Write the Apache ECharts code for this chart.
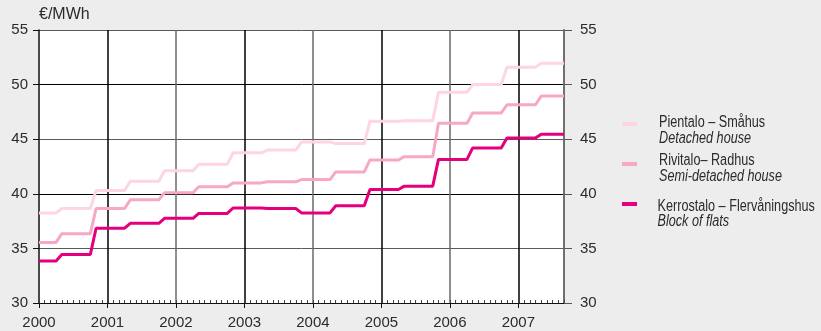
<!DOCTYPE html>
<html>
<head>
<meta charset="utf-8">
<script src="https://cdn.jsdelivr.net/npm/echarts@6/dist/echarts.min.js"></script>
<style>
  html, body { margin: 0; padding: 0; background: #ededed; }
  #chart { width: 821px; height: 331px; }
</style>
</head>
<body>
<div id="chart"></div>
<script>
// Monthly price levels, €/MWh, January 2000 to September 2007
const yearLabels = ['2000', '2001', '2002', '2003', '2004', '2005', '2006', '2007'];
const firstYear = 2000;
const monthCount = 93;

const seriesNames = ['Pientalo – Småhus', 'Rivitalo– Radhus', 'Kerrostalo – Flervåningshus'];
const seriesSubtitles = ['Detached house', 'Semi-detached house', 'Block of flats'];
const seriesColors = ['#fdd5e3', '#f6a8c6', '#e4007c'];

const detachedHouse = [
  38.25, 38.25, 38.25, 38.25, 38.65, 38.65, 38.65, 38.65, 38.65, 38.65, 40.3, 40.3,
  40.3, 40.3, 40.3, 40.3, 41.15, 41.15, 41.15, 41.15, 41.15, 41.15, 42.1, 42.1,
  42.1, 42.1, 42.1, 42.1, 42.7, 42.7, 42.7, 42.7, 42.7, 42.7, 43.75, 43.75,
  43.75, 43.75, 43.75, 43.75, 44.0, 44.0, 44.0, 44.0, 44.0, 44.0, 44.75, 44.75,
  44.75, 44.75, 44.75, 44.75, 44.6, 44.6, 44.6, 44.6, 44.6, 44.6, 46.65, 46.65,
  46.65, 46.65, 46.65, 46.65, 46.7, 46.7, 46.7, 46.7, 46.7, 46.7, 49.3, 49.3,
  49.3, 49.3, 49.3, 49.3, 50.0, 50.0, 50.0, 50.0, 50.0, 50.0, 51.6, 51.6,
  51.6, 51.6, 51.6, 51.6, 51.95, 51.95, 51.95, 51.95, 51.95
];

const semiDetachedHouse = [
  35.55, 35.55, 35.55, 35.55, 36.35, 36.35, 36.35, 36.35, 36.35, 36.35, 38.65, 38.65,
  38.65, 38.65, 38.65, 38.65, 39.45, 39.45, 39.45, 39.45, 39.45, 39.45, 40.1, 40.1,
  40.1, 40.1, 40.1, 40.1, 40.65, 40.65, 40.65, 40.65, 40.65, 40.65, 41.0, 41.0,
  41.0, 41.0, 41.0, 41.0, 41.1, 41.1, 41.1, 41.1, 41.1, 41.1, 41.3, 41.3,
  41.3, 41.3, 41.3, 41.3, 42.0, 42.0, 42.0, 42.0, 42.0, 42.0, 43.1, 43.1,
  43.1, 43.1, 43.1, 43.1, 43.4, 43.4, 43.4, 43.4, 43.4, 43.4, 46.45, 46.45,
  46.45, 46.45, 46.45, 46.45, 47.4, 47.4, 47.4, 47.4, 47.4, 47.4, 48.15, 48.15,
  48.15, 48.15, 48.15, 48.15, 48.95, 48.95, 48.95, 48.95, 48.95
];

const blockOfFlats = [
  33.85, 33.85, 33.85, 33.85, 34.45, 34.45, 34.45, 34.45, 34.45, 34.45, 36.85, 36.85,
  36.85, 36.85, 36.85, 36.85, 37.3, 37.3, 37.3, 37.3, 37.3, 37.3, 37.75, 37.75,
  37.75, 37.75, 37.75, 37.75, 38.2, 38.2, 38.2, 38.2, 38.2, 38.2, 38.7, 38.7,
  38.7, 38.7, 38.7, 38.7, 38.65, 38.65, 38.65, 38.65, 38.65, 38.65, 38.25, 38.25,
  38.25, 38.25, 38.25, 38.25, 38.9, 38.9, 38.9, 38.9, 38.9, 38.9, 40.4, 40.4,
  40.4, 40.4, 40.4, 40.4, 40.7, 40.7, 40.7, 40.7, 40.7, 40.7, 43.15, 43.15,
  43.15, 43.15, 43.15, 43.15, 44.2, 44.2, 44.2, 44.2, 44.2, 44.2, 45.1, 45.1,
  45.1, 45.1, 45.1, 45.1, 45.45, 45.45, 45.45, 45.45, 45.45
];

const seriesValues = [detachedHouse, semiDetachedHouse, blockOfFlats];

// Month categories, e.g. "2000-01"
const months = [];
for (let i = 0; i < monthCount; i++) {
  const y = firstYear + Math.floor(i / 12);
  const m = (i % 12) + 1;
  months.push(y + '-' + (m < 10 ? '0' + m : m));
}

const numFont = '"Liberation Sans", Arial, sans-serif';
const textColor = '#2b2b2b';
const isYearStart = (i) => i % 12 === 0;

// Legend captions are drawn condensed (horizontally squeezed sans)
const captionX = 659;
const captionScale = 0.79;
const captionRows = [
  { text: seriesNames[0], y: 122.5, italic: false },
  { text: seriesSubtitles[0], y: 138.5, italic: true },
  { text: seriesNames[1], y: 160.5, italic: false },
  { text: seriesSubtitles[1], y: 176.5, italic: true },
  { text: seriesNames[2], y: 206.5, italic: false, dx: -1.5 },
  { text: seriesSubtitles[2], y: 221.5, italic: true, dx: -1.5 }
];

const chart = echarts.init(document.getElementById('chart'), null, { renderer: 'canvas' });

chart.setOption({
  backgroundColor: '#ededed',
  animation: false,
  grid: {
    left: 39, right: 257, top: 30, bottom: 28,
    show: true, backgroundColor: '#ffffff', borderWidth: 0
  },
  xAxis: [
    {
      type: 'category',
      data: months,
      boundaryGap: false,
      axisLine: { show: true, lineStyle: { color: '#111', width: 1 } },
      axisTick: { show: true, inside: true, length: 3, interval: 0, lineStyle: { color: '#444', width: 1 } },
      axisLabel: {
        interval: (i) => isYearStart(i),
        formatter: (v, i) => yearLabels[Math.floor(i / 12)],
        margin: 12, fontFamily: numFont, fontSize: 15, color: textColor
      },
      splitLine: {
        show: true,
        interval: (i) => isYearStart(i) && i > 0,
        lineStyle: { color: ['#000000', '#6a6a6a'], width: 1.5 }
      }
    },
    {
      type: 'category',
      data: months,
      boundaryGap: false,
      position: 'bottom',
      axisLine: { show: false },
      axisLabel: { show: false },
      axisTick: { show: true, inside: false, length: 5, interval: (i) => isYearStart(i), lineStyle: { color: '#111', width: 1 } },
      splitLine: { show: false }
    }
  ],
  yAxis: [
    {
      type: 'value', position: 'left', min: 30, max: 55, interval: 5,
      axisLine: { show: true, lineStyle: { color: '#111', width: 1.5 } },
      axisTick: { show: true, inside: false, length: 6, lineStyle: { color: '#111' } },
      axisLabel: { margin: 11, fontFamily: numFont, fontSize: 15, color: textColor },
      splitLine: { show: true, lineStyle: { color: ['#000000', '#5a5a5a'], width: 1 } }
    },
    {
      type: 'value', position: 'right', min: 30, max: 55, interval: 5,
      axisLine: { show: true, lineStyle: { color: '#707070', width: 2 } },
      axisTick: { show: true, inside: false, length: 8, lineStyle: { color: '#555' } },
      axisLabel: { margin: 16, fontFamily: numFont, fontSize: 15, color: textColor },
      splitLine: { show: false }
    }
  ],
  legend: {
    orient: 'vertical',
    left: 622, top: 115,
    padding: 0,
    itemWidth: 15, itemHeight: 4, itemGap: 22,
    icon: 'rect',
    data: seriesNames,
    formatter: () => ' ',
    textStyle: { fontFamily: numFont, fontSize: 16, lineHeight: 18, color: textColor }
  },
  graphic: [
    {
      type: 'text', left: 39, top: 7,
      style: { text: '€/MWh', font: '16px ' + numFont, fill: textColor }
    }
  ].concat(captionRows.map((r) => ({
    type: 'text',
    x: captionX + (r.dx || 0), y: r.y,
    scaleX: captionScale,
    style: {
      text: r.text,
      font: (r.italic ? 'italic ' : '') + '16px ' + numFont,
      fill: textColor,
      verticalAlign: 'middle'
    }
  }))),
  series: seriesNames.map((name, i) => ({
    name: name,
    type: 'line',
    data: seriesValues[i],
    symbol: 'none',
    color: seriesColors[i],
    lineStyle: { color: seriesColors[i], width: 3 },
    z: 3 + i
  }))
});
</script>
</body>
</html>
